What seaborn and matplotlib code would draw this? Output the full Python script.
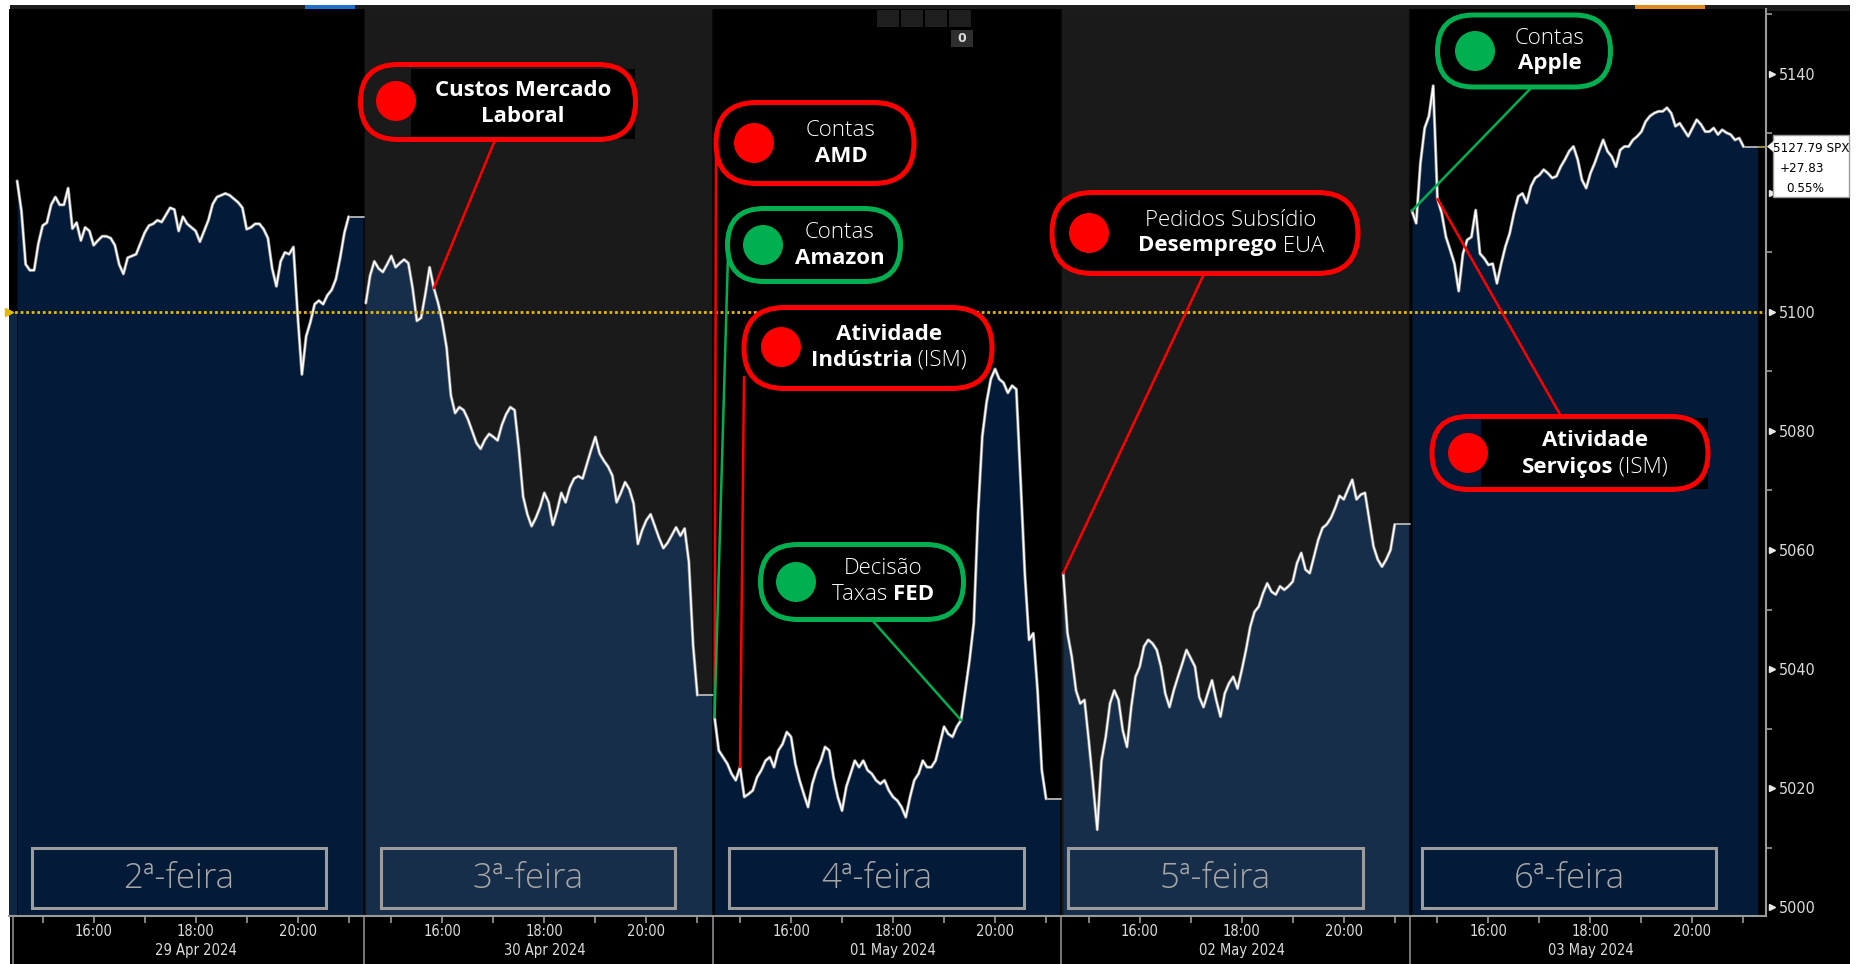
import matplotlib
matplotlib.use('Agg')
import matplotlib.pyplot as plt
import matplotlib.transforms as mtransforms
from matplotlib import font_manager as fm
from matplotlib.patches import FancyBboxPatch, Rectangle, Circle, Polygon
from matplotlib.lines import Line2D
import seaborn as sns
import numpy as np
import pandas as pd

# ---- data (SPX, 5-minute readings 14:30 -> 21:00 UK time) ----
dates = ['29 Apr 2024', '30 Apr 2024', '01 May 2024', '02 May 2024', '03 May 2024']
day_names = ['2ª-feira', '3ª-feira', '4ª-feira', '5ª-feira', '6ª-feira']
hour_labels = ['15:00', '16:00', '17:00', '18:00', '19:00', '20:00', '21:00']
shown_hours = ['16:00', '18:00', '20:00']
price_ticks = [5000, 5020, 5040, 5060, 5080, 5100, 5120, 5140]
hidden_tick = 5120  # sits under the price flag

mon = [5122, 5117, 5108, 5107, 5107, 5111.5, 5114.5, 5115, 5118, 5119.3,
       5118, 5118, 5120.8, 5114, 5115, 5112, 5114.2, 5113.6, 5111.2, 5112,
       5112.7, 5112.7, 5112.4, 5111.2, 5108, 5106.4, 5109.1, 5109.4, 5109.7, 5111.5,
       5113.3, 5114.5, 5114.8, 5115.4, 5115.1, 5116.3, 5117.5, 5117.2, 5113.6, 5116,
       5114.8, 5114.2, 5113.6, 5111.8, 5113.6, 5115.4, 5118.1, 5119.3, 5119.6, 5119.9,
       5119.6, 5119, 5118.4, 5117.5, 5113.9, 5114.2, 5114.8, 5114.8, 5113.9, 5112.4,
       5107.3, 5104.3, 5108.5, 5110, 5109.7, 5110.9, 5099.5, 5089.5, 5095.9, 5098.3,
       5101.3, 5101.9, 5101.3, 5102.8, 5103.7, 5105.5, 5109.1, 5113.3, 5116.0]
tue = [5101.5, 5106.1, 5108.5, 5107.3, 5106.7, 5108, 5109.4, 5107.5, 5108.2, 5108.8,
       5108.2, 5104, 5098.5, 5099, 5103, 5107.5, 5104, 5101.5, 5098.3, 5094,
       5086, 5083, 5084, 5083.5, 5082, 5080, 5078, 5077, 5078.5, 5079.5,
       5079, 5078.4, 5081, 5082.8, 5084, 5083.5, 5077, 5069, 5066, 5064,
       5065.4, 5067.2, 5069.6, 5068, 5064.2, 5066.6, 5069.6, 5068, 5070.5, 5072,
       5072.4, 5072, 5074.4, 5076.8, 5079, 5076.2, 5075, 5074, 5072.5, 5068,
       5069.6, 5071.4, 5070.2, 5067.8, 5061, 5063.3, 5065, 5066, 5064, 5062,
       5060.3, 5061.2, 5062.5, 5063.8, 5062.4, 5063.6, 5058, 5044, 5035.6]
wed = [5031.9, 5026.3, 5025.2, 5024.1, 5022.4, 5021.3, 5023.5, 5018.5, 5019, 5019.6,
       5021.8, 5023, 5024.6, 5025.2, 5023.5, 5026.3, 5027.4, 5029.4, 5028.6, 5024.1,
       5021.3, 5019, 5016.8, 5020.7, 5023, 5024.6, 5026.9, 5026.3, 5021.8, 5018.5,
       5016.2, 5020.2, 5022.4, 5024.6, 5023.5, 5024.6, 5023, 5022.4, 5021.3, 5020.7,
       5021.3, 5019.6, 5018.5, 5017.9, 5016.8, 5015.1, 5018.5, 5021.3, 5022.4, 5024.6,
       5023.5, 5023.5, 5024.6, 5027.4, 5030.3, 5029.1, 5028.6, 5030.3, 5031.4, 5036.4,
       5041.5, 5047.7, 5066.2, 5079.1, 5084.8, 5088.7, 5090.4, 5088.7, 5088.1, 5086.4,
       5087.6, 5087, 5071.8, 5056.1, 5044.9, 5046, 5036.4, 5023, 5018.2]
thu = [5056.1, 5046, 5042.1, 5036.4, 5034.2, 5034.8, 5028, 5020.7, 5013, 5024.6,
       5028.6, 5034.2, 5036.4, 5034.8, 5029.7, 5026.9, 5033.6, 5038.7, 5040.4, 5043.8,
       5044.9, 5044.3, 5043.2, 5040.4, 5035.9, 5033.6, 5036.4, 5038.7, 5040.9, 5043.2,
       5041.8, 5040.4, 5035.3, 5033.6, 5035.9, 5038.1, 5034.8, 5032, 5035.9, 5037.6,
       5038.7, 5036.7, 5039.8, 5043.2, 5047.1, 5049.6, 5050.5, 5052.7, 5054.4, 5053,
       5052.5, 5053.9, 5053.3, 5053.9, 5054.7, 5057.8, 5059.5, 5056.7, 5056.1, 5058.9,
       5061.7, 5063.7, 5064.3, 5065.4, 5067.1, 5069.1, 5068.5, 5070.2, 5071.8, 5068.5,
       5069.3, 5069.6, 5065.1, 5060.6, 5058.4, 5057.2, 5058.4, 5060, 5064.3]
fri = [5117, 5114.9, 5125, 5130.9, 5132.9, 5138, 5119, 5116.6, 5112.6, 5110.4,
       5108.1, 5103.5, 5109.8, 5112.1, 5112.6, 5117.1, 5109.8, 5109, 5107.9, 5108.1,
       5104.8, 5108.1, 5111, 5113.2, 5116.6, 5119.4, 5119.9, 5118.3, 5121.1, 5122.5,
       5123, 5123.9, 5123.3, 5122.5, 5122.8, 5124.4, 5125.6, 5127, 5127.8, 5125.6,
       5122.2, 5120.8, 5123.3, 5125, 5127, 5128.9, 5127, 5126.1, 5124.4, 5127.2,
       5127.8, 5127.8, 5128.9, 5129.5, 5130.3, 5132, 5132.9, 5133.4, 5133.7, 5133.7,
       5134.3, 5133.4, 5131.2, 5131.7, 5130.6, 5129.5, 5130.9, 5132.3, 5131.5, 5130.3,
       5130.3, 5130.9, 5129.8, 5130.6, 5130.1, 5129.8, 5128.9, 5129.2, 5127.79]
series = [mon, tue, wed, thu, fri]

prev_close = 5100
last_price = 5127.79
last_change = '+27.83'
last_pct = '0.55%'
ticker = 'SPX'

# callouts: text lines as (text, weight) runs, colour, target (day, reading index)
notes = [
    dict(lines=[[('Custos Mercado', 'bold')], [('Laboral', 'bold')]], color='red', target=(1, 16),
         box=(498, 102, 275, 75), dot=(396, 101), text=(523, 103), start=(495, 140), backing=(411, 69, 635, 139)),
    dict(lines=[[('Contas', 'normal')], [('AMD', 'bold')]], color='red', target=(2, 0),
         box=(815, 143, 198, 81), dot=(754, 143), text=(841, 143), start=(716, 150)),
    dict(lines=[[('Contas', 'normal')], [('Amazon', 'bold')]], color='green', target=(2, 0),
         box=(814, 245, 173, 73), dot=(763, 245), text=(840, 245), start=(728, 255)),
    dict(lines=[[('Atividade', 'bold')], [('Indústria', 'bold'), (' (ISM)', 'normal')]], color='red', target=(2, 6),
         box=(868, 348, 248, 81), dot=(781, 347), text=(889, 347), start=(744, 377)),
    dict(lines=[[('Decisão', 'normal')], [('Taxas ', 'normal'), ('FED', 'bold')]], color='green', target=(2, 58),
         box=(862, 582, 203, 75), dot=(796, 582), text=(883, 582), start=(872, 620)),
    dict(lines=[[('Pedidos Subsídio', 'normal')], [('Desemprego', 'bold'), (' EUA', 'normal')]], color='red', target=(3, 0),
         box=(1205, 233, 306, 81), dot=(1089, 233), text=(1231, 233), start=(1204, 274)),
    dict(lines=[[('Contas', 'normal')], [('Apple', 'bold')]], color='green', target=(4, 0),
         box=(1524, 51, 173, 72), dot=(1475, 51), text=(1550, 51), start=(1531, 88)),
    dict(lines=[[('Atividade', 'bold')], [('Serviços', 'bold'), (' (ISM)', 'normal')]], color='red', target=(4, 6),
         box=(1570, 453, 276, 73), dot=(1468, 453), text=(1595, 454), start=(1562, 418), backing=(1481, 418, 1708, 489)),
]
COLORS = {'red': '#ff0000', 'green': '#00b050'}

# ---- layout ----
W, H = 1858, 964
SLOT = 6.837          # hours per day slot on the axis
STEP = 5 / 60
X0, X1 = -0.15, 4 * SLOT + 6.942
Y0, Y1 = 4998.5, 5150.9

sns.set_style('dark', {'axes.facecolor': 'black'})
plt.rcParams['font.family'] = ['DejaVu Sans']
PILL_FONT = ['Open Sans', 'DejaVu Sans']


def pick_narrow():
    for f in fm.fontManager.ttflist:
        narrow = ('Narrow' in f.name or 'Condensed' in f.name
                  or f.stretch in ('condensed', 'semi-condensed'))
        if narrow and f.style == 'normal' and f.weight in (400, 'normal', 'regular', 'book'):
            return f.fname
    return None


NARROW = pick_narrow()


def afont(size):
    if NARROW:
        return fm.FontProperties(fname=NARROW, size=size)
    return fm.FontProperties(family=['Liberation Sans', 'DejaVu Sans'], size=size * 0.82)


rows = []
for d, vals in enumerate(series):
    for i, v in enumerate(vals):
        rows.append({'day': d, 'x': d * SLOT + i * STEP, 'price': v})
df = pd.DataFrame(rows)

fig = plt.figure(figsize=(W / 100, H / 100), dpi=100)
fig.patch.set_facecolor('white')
ident = mtransforms.IdentityTransform()
fig.add_artist(Rectangle((10, 0), 1840, 959, transform=ident, fc='black', ec='none', zorder=-10))
fig.add_artist(Rectangle((10, 953), 1840, 6, transform=ident, fc='#1c1c1c', ec='none', zorder=-9))
fig.add_artist(Rectangle((305, 955), 50, 4, transform=ident, fc='#1f6fd0', ec='none', zorder=-8))
fig.add_artist(Rectangle((1635, 955), 70, 4, transform=ident, fc='#e08a1e', ec='none', zorder=-8))

ax = fig.add_axes([9.5 / W, (H - 916) / H, (1766 - 9.5) / W, (916 - 9) / H])
ax.set_facecolor('black')
ax.set_xlim(X0, X1)
ax.set_ylim(Y0, Y1)

bounds = [d * SLOT - 0.035 for d in range(1, 5)]
for d in (1, 3):
    ax.axvspan(bounds[d - 1], bounds[d], color='#1a1a1a', lw=0, zorder=0)

fills = ['#031b38', '#172e4b', '#031b38', '#172e4b', '#031b38']
tail_end = bounds + [4 * SLOT + 6.78]
ax.fill_between([X0, 0], [prev_close, prev_close], Y0, color='#0d2644', lw=0, zorder=1)
for d in range(5):
    sub = df[df.day == d]
    xs = list(sub.x) + [tail_end[d]]
    ys = list(sub.price) + [sub.price.iloc[-1]]
    ax.fill_between(xs, ys, Y0, color=fills[d], lw=0, zorder=1)
    ax.plot([sub.x.iloc[-1], tail_end[d]], [sub.price.iloc[-1]] * 2, color='#b8b8b8', lw=1.3, zorder=3)

for b in bounds:
    ax.axvline(b, color='#060606', lw=1.2, zorder=2)

sns.lineplot(data=df, x='x', y='price', units='day', estimator=None, color='#8a8a8a',
             lw=2.3, ax=ax, zorder=4, legend=False)
sns.lineplot(data=df, x='x', y='price', units='day', estimator=None, color='white',
             lw=1.2, ax=ax, zorder=4, legend=False)
ax.plot([tail_end[4], X1], [last_price] * 2, color='#a8984a', lw=1.3, zorder=3)

# previous close
ax.axhline(prev_close, color='#e6b800', lw=2.0, ls=(0, (1, 1)), zorder=5)
ax.plot([X0], [prev_close], marker='>', ms=6, color='#e6b800', clip_on=False, zorder=6)

# day boxes
box_off = [0.29, 0.29, 0.29, 0.10, 0.20]
for d in range(5):
    bx = d * SLOT + box_off[d]
    ax.add_patch(Rectangle((bx, 4999.9), 5.77, 10.0, fill=False, ec='#9c9c9c', lw=2.2, zorder=6))
    ax.text(bx + 5.77 / 2, 5004.7, day_names[d], ha='center', va='center', color='#a6a6a6',
            fontsize=25, family=PILL_FONT, fontweight='light', zorder=6)

# x axis
xt, xl = [], []
for d in range(5):
    for k, lab in enumerate(hour_labels):
        xt.append(d * SLOT + 0.5 + k)
        xl.append(lab if lab in shown_hours else '')
ax.set_xticks(xt)
ax.set_xticklabels(xl, fontproperties=afont(10.5))
ax.tick_params(axis='x', length=5, width=1.2, color='#9a9a9a', labelcolor='#dcdcdc',
               pad=1, direction='out', bottom=True)
blend = mtransforms.blended_transform_factory(ax.transData, ax.transAxes)
for d in range(5):
    ax.text(d * SLOT + 3.5, -0.0385, dates[d], transform=blend, ha='center', va='center',
            color='#dcdcdc', fontproperties=afont(10.5))
for b in [-0.09] + bounds:
    ax.plot([b, b], [0, -0.055], transform=blend, color='#8c8c8c', lw=1.2, clip_on=False)

# y axis
ax.yaxis.tick_right()
ax.set_yticks(price_ticks)
ax.set_yticks(range(5010, 5151, 20), minor=True)
ax.set_yticklabels(['' if v == hidden_tick else str(v) for v in price_ticks], fontproperties=afont(11.5))
ax.tick_params(axis='y', which='major', length=0, pad=9, labelcolor='#dcdcdc', right=True)
ax.tick_params(axis='y', which='minor', length=4, width=1.2, color='#9a9a9a', right=True)
yblend = mtransforms.blended_transform_factory(ax.transAxes, ax.transData)
ax.plot([1.0035] * len(price_ticks), price_ticks, transform=yblend, ls='none', marker='>',
        ms=5, color='#e8e8e8', clip_on=False, zorder=7)
ax.set_xlabel('')
ax.set_ylabel('')
ax.grid(False)
for s in ('top', 'left'):
    ax.spines[s].set_visible(False)
for s in ('right', 'bottom'):
    ax.spines[s].set_visible(True)
    ax.spines[s].set_color('#9a9a9a')
    ax.spines[s].set_linewidth(1.5)

# price flag
py = ax.transData.transform((0, last_price))[1]
fig.add_artist(Rectangle((1773, H - 197), 76, 62, transform=ident, fc='white', ec='#9a9a9a', lw=1, zorder=8))
fig.add_artist(Polygon([[1767, py], [1774, py + 6], [1774, py - 6]], closed=True, transform=ident,
                       fc='white', ec='none', zorder=8))
fig.text(1811, H - 148, f'{last_price:.2f} {ticker}', transform=ident, ha='center', va='center',
         color='black', fontproperties=afont(9.6), zorder=9)
fig.text(1802, H - 168, last_change, transform=ident, ha='center', va='center',
         color='black', fontproperties=afont(9.6), zorder=9)
fig.text(1805, H - 188, last_pct, transform=ident, ha='center', va='center',
         color='black', fontproperties=afont(9.6), zorder=9)

# small toolbar at the top of Wednesday
for k in range(4):
    fig.add_artist(Rectangle((877 + k * 24, H - 27), 22, 17, transform=ident, fc='#1e1e1e', ec='none', zorder=8))
fig.add_artist(Rectangle((951, H - 47), 22, 17, transform=ident, fc='#2e2e2e', ec='none', zorder=8))
fig.text(962, H - 38.5, '0', transform=ident, ha='center', va='center', fontsize=9,
         color='#dddddd', fontweight='bold', zorder=9)

# callouts
renderer = fig.canvas.get_renderer()


def rich_line(cx, cy, runs, size=16):
    objs = [fig.text(0, 0, s, fontsize=size, fontweight=w if w == 'bold' else 'light', color='white',
                     family=PILL_FONT, ha='left', va='center', transform=ident, zorder=12)
            for s, w in runs]
    widths = [t.get_window_extent(renderer).width for t in objs]
    x = cx - sum(widths) / 2
    for t, w in zip(objs, widths):
        t.set_position((x, H - cy))
        x += w


for n in notes:
    col = COLORS[n['color']]
    d, i = n['target']
    tx, ty = ax.transData.transform((d * SLOT + i * STEP, series[d][i]))
    sx, sy = n['start']
    fig.add_artist(Line2D([sx, tx], [H - sy, ty], transform=ident, color=col, lw=1.8, zorder=9))
    if 'backing' in n:
        x0, y0, x1, y1 = n['backing']
        fig.add_artist(Rectangle((x0, H - y1), x1 - x0, y1 - y0, transform=ident, fc='black', ec='none', zorder=10))
    cx, cy, w, h = n['box']
    fig.add_artist(FancyBboxPatch((cx - w / 2, H - cy - h / 2), w, h,
                                  boxstyle=f'round,pad=0,rounding_size={h / 2}', transform=ident,
                                  fc='none' if 'backing' in n else 'black', ec=col, lw=3.6, zorder=11))
    fig.add_artist(Circle((n['dot'][0], H - n['dot'][1]), 20, transform=ident, fc=col, ec='none', zorder=11))
    tcx, tcy = n['text']
    rich_line(tcx, tcy - 13, n['lines'][0])
    rich_line(tcx, tcy + 13, n['lines'][1])

fig.savefig('out.png', dpi=100, facecolor=fig.get_facecolor())
